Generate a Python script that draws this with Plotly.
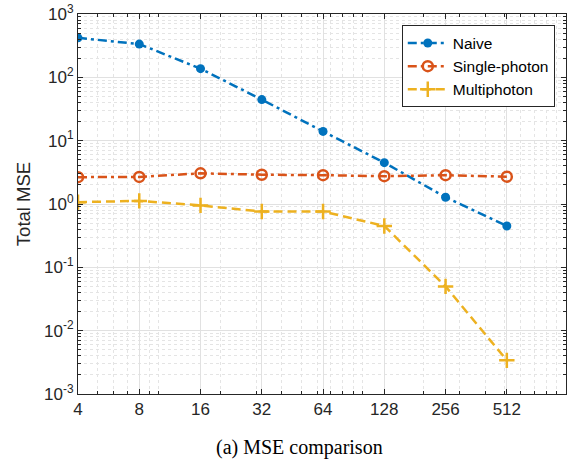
import math
import plotly.graph_objects as go

x_vals = [4, 8, 16, 32, 64, 128, 256, 512]
naive = [420, 335, 137, 44.5, 14, 4.5, 1.28, 0.45]
single_photon = [2.65, 2.68, 3.05, 2.9, 2.85, 2.75, 2.85, 2.7]
multiphoton = [1.07, 1.12, 0.95, 0.76, 0.76, 0.45, 0.05, 0.0034]
x_ticks = [4, 8, 16, 32, 64, 128, 256, 512]
y_ticks = [1e-3, 1e-2, 1e-1, 1, 10, 100, 1000]
y_ticktext = ["10<sup>-3</sup>", "10<sup>-2</sup>", "10<sup>-1</sup>", "10<sup>0</sup>",
              "10<sup>1</sup>", "10<sup>2</sup>", "10<sup>3</sup>"]

blue = "#0072BD"
orange = "#D95319"
yellow = "#EDB120"

fig = go.Figure()
fig.add_trace(go.Scatter(x=x_vals, y=naive, name="Naive", mode="lines+markers",
                         line=dict(color=blue, width=2.5, dash="9px,4px,3px,4px"),
                         marker=dict(symbol="circle", size=9, color=blue)))
fig.add_trace(go.Scatter(x=x_vals, y=single_photon, name="Single-photon", mode="lines+markers",
                         line=dict(color=orange, width=2.5, dash="9px,4px,3px,4px"),
                         marker=dict(symbol="circle-open", size=10, color=orange, line=dict(width=2.5))))
fig.add_trace(go.Scatter(x=x_vals, y=multiphoton, name="Multiphoton", mode="lines+markers",
                         line=dict(color=yellow, width=2.5, dash="9px,5px"),
                         marker=dict(symbol="cross-thin", size=11, color=yellow, line=dict(width=2.5, color=yellow))))

x_minor = [v * 10 ** e for e in range(0, 4) for v in range(1, 10) if 4 <= v * 10 ** e <= 1000]
y_minor = [v * 10.0 ** e for e in range(-3, 3) for v in range(2, 10)]

FONT = "Liberation Sans"
axis_common = dict(
    type="log", showline=True, linecolor="#262626", linewidth=1, mirror="ticks",
    ticks="inside", ticklen=5, tickcolor="#262626",
    showgrid=True, gridcolor="#e1e1e1", gridwidth=1,
    tickfont=dict(family=FONT, size=17, color="#262626"),
    ticklabeloverflow="allow",
    zeroline=False,
)

fig.update_xaxes(**axis_common, range=[math.log10(4), 3], tickvals=x_ticks,
                 ticktext=[str(v) for v in x_ticks],
                 minor=dict(tickvals=x_minor, ticks="inside", ticklen=3, tickcolor="#262626",
                            showgrid=True, gridcolor="#e4e4e4", griddash="dot", gridwidth=1))
fig.update_yaxes(**axis_common, range=[-3, 3], tickvals=y_ticks, ticktext=y_ticktext,
                 title=dict(text="Total MSE", font=dict(family=FONT, size=18.5, color="#262626"), standoff=8),
                 minor=dict(tickvals=y_minor, ticks="inside", ticklen=3, tickcolor="#262626",
                            showgrid=True, gridcolor="#e4e4e4", griddash="dot", gridwidth=1))

fig.update_layout(
    width=569, height=461, margin=dict(l=78, r=2, t=12, b=67),
    plot_bgcolor="white", paper_bgcolor="white",
    legend=dict(x=0.977, y=0.97, xanchor="right", yanchor="top",
                bgcolor="white", bordercolor="#262626", borderwidth=1,
                font=dict(family=FONT, size=15.5, color="#000000"),
                tracegroupgap=0, itemwidth=40),
    showlegend=True,
    annotations=[dict(text="(a) MSE comparison", xref="paper", yref="paper",
                      x=0.454, y=-0.141, xanchor="center", yanchor="middle", showarrow=False,
                      font=dict(family="Liberation Serif", size=20, color="#000000"))],
)

fig.write_html("out.html")
